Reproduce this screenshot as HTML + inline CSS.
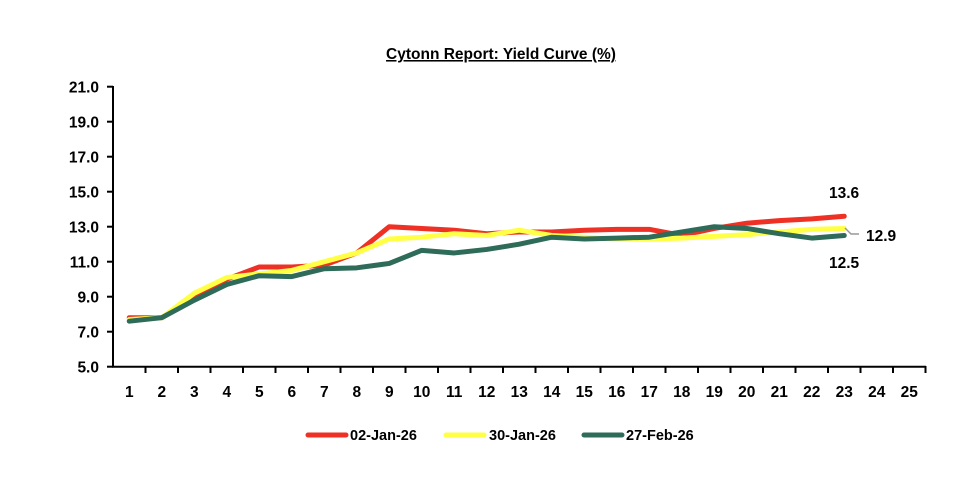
<!DOCTYPE html>
<html><head><meta charset="utf-8"><style>
body{margin:0;background:#fff;}
svg text{font-family:"Liberation Sans",sans-serif;font-weight:bold;fill:#000;}
</style></head><body>
<svg width="962" height="494" xmlns="http://www.w3.org/2000/svg">
<rect width="962" height="494" fill="#fff"/>
<text x="501" y="59" font-size="15.5" text-anchor="middle" text-decoration="underline">Cytonn Report: Yield Curve (%)</text>
<g stroke="#000" stroke-width="2">
<line x1="113" y1="86" x2="113" y2="367"/>
<line x1="112" y1="366.7" x2="926" y2="366.7"/>
</g>
<g stroke="#000" stroke-width="2">
<line x1="107" y1="86.7" x2="113" y2="86.7"/><line x1="107" y1="121.7" x2="113" y2="121.7"/>
<line x1="107" y1="156.7" x2="113" y2="156.7"/><line x1="107" y1="191.7" x2="113" y2="191.7"/>
<line x1="107" y1="226.7" x2="113" y2="226.7"/><line x1="107" y1="261.7" x2="113" y2="261.7"/>
<line x1="107" y1="296.7" x2="113" y2="296.7"/><line x1="107" y1="331.7" x2="113" y2="331.7"/>
<line x1="107" y1="366.7" x2="113" y2="366.7"/>
</g>
<g font-size="15.5" text-anchor="end">
<text x="99" y="92.5">21.0</text><text x="99" y="127.5">19.0</text><text x="99" y="162.5">17.0</text>
<text x="99" y="197.5">15.0</text><text x="99" y="232.5">13.0</text><text x="99" y="267.5">11.0</text>
<text x="99" y="302.5">9.0</text><text x="99" y="337.5">7.0</text><text x="99" y="372.5">5.0</text>
</g>
<g stroke="#000" stroke-width="2">
<line x1="145.5" y1="366" x2="145.5" y2="373"/><line x1="178" y1="366" x2="178" y2="373"/><line x1="210.5" y1="366" x2="210.5" y2="373"/><line x1="243" y1="366" x2="243" y2="373"/><line x1="275.5" y1="366" x2="275.5" y2="373"/><line x1="308" y1="366" x2="308" y2="373"/><line x1="340.5" y1="366" x2="340.5" y2="373"/><line x1="373" y1="366" x2="373" y2="373"/><line x1="405.5" y1="366" x2="405.5" y2="373"/><line x1="438" y1="366" x2="438" y2="373"/><line x1="470.5" y1="366" x2="470.5" y2="373"/><line x1="503" y1="366" x2="503" y2="373"/><line x1="535.5" y1="366" x2="535.5" y2="373"/><line x1="568" y1="366" x2="568" y2="373"/><line x1="600.5" y1="366" x2="600.5" y2="373"/><line x1="633" y1="366" x2="633" y2="373"/><line x1="665.5" y1="366" x2="665.5" y2="373"/><line x1="698" y1="366" x2="698" y2="373"/><line x1="730.5" y1="366" x2="730.5" y2="373"/><line x1="763" y1="366" x2="763" y2="373"/><line x1="795.5" y1="366" x2="795.5" y2="373"/><line x1="828" y1="366" x2="828" y2="373"/><line x1="860.5" y1="366" x2="860.5" y2="373"/><line x1="893" y1="366" x2="893" y2="373"/><line x1="925.5" y1="366" x2="925.5" y2="373"/>
</g>
<g font-size="15.5" text-anchor="middle">
<text x="129.25" y="397">1</text><text x="161.75" y="397">2</text><text x="194.25" y="397">3</text><text x="226.75" y="397">4</text><text x="259.25" y="397">5</text><text x="291.75" y="397">6</text><text x="324.25" y="397">7</text><text x="356.75" y="397">8</text><text x="389.25" y="397">9</text><text x="421.75" y="397">10</text><text x="454.25" y="397">11</text><text x="486.75" y="397">12</text><text x="519.25" y="397">13</text><text x="551.75" y="397">14</text><text x="584.25" y="397">15</text><text x="616.75" y="397">16</text><text x="649.25" y="397">17</text><text x="681.75" y="397">18</text><text x="714.25" y="397">19</text><text x="746.75" y="397">20</text><text x="779.25" y="397">21</text><text x="811.75" y="397">22</text><text x="844.25" y="397">23</text><text x="876.75" y="397">24</text><text x="909.25" y="397">25</text>
</g>
<g transform="translate(129.25,454.2) scale(32.5,-17.5)" fill="none" stroke-linejoin="round" stroke-linecap="round">
<polyline vector-effect="non-scaling-stroke" stroke="#ee3124" stroke-width="5" points="0,7.8 1,7.8 2,8.9 3,10.0 4,10.7 5,10.7 6,10.8 7,11.5 8,13.0 9,12.9 10,12.8 11,12.6 12,12.7 13,12.7 14,12.8 15,12.85 16,12.85 17,12.5 18,12.9 19,13.2 20,13.35 21,13.45 22,13.6"/>
<polyline vector-effect="non-scaling-stroke" stroke="#ffff45" stroke-width="5" points="0,7.7 1,7.8 2,9.2 3,10.1 4,10.3 5,10.5 6,11.0 7,11.5 8,12.3 9,12.4 10,12.6 11,12.5 12,12.8 13,12.5 14,12.4 15,12.3 16,12.3 17,12.35 18,12.45 19,12.55 20,12.7 21,12.85 22,12.9"/>
<polyline vector-effect="non-scaling-stroke" stroke="#2e6b59" stroke-width="5" points="0,7.6 1,7.8 2,8.8 3,9.7 4,10.2 5,10.15 6,10.6 7,10.65 8,10.9 9,11.65 10,11.5 11,11.7 12,12.0 13,12.4 14,12.3 15,12.35 16,12.4 17,12.7 18,13.0 19,12.9 20,12.6 21,12.35 22,12.5"/>
</g>
<polyline points="845,228 851,234 859,234" fill="none" stroke="#999" stroke-width="1.5"/>
<g font-size="15.5">
<text x="829" y="198">13.6</text>
<text x="866" y="241">12.9</text>
<text x="829" y="268">12.5</text>
</g>
<g stroke-width="5" stroke-linecap="round">
<line x1="308" y1="435" x2="346" y2="435" stroke="#ee3124"/>
<line x1="446" y1="435" x2="484" y2="435" stroke="#ffff45"/>
<line x1="584" y1="435" x2="622" y2="435" stroke="#2e6b59"/>
</g>
<g font-size="14.5">
<text x="350" y="440">02-Jan-26</text>
<text x="489" y="440">30-Jan-26</text>
<text x="626" y="440">27-Feb-26</text>
</g>
</svg>
</body></html>
